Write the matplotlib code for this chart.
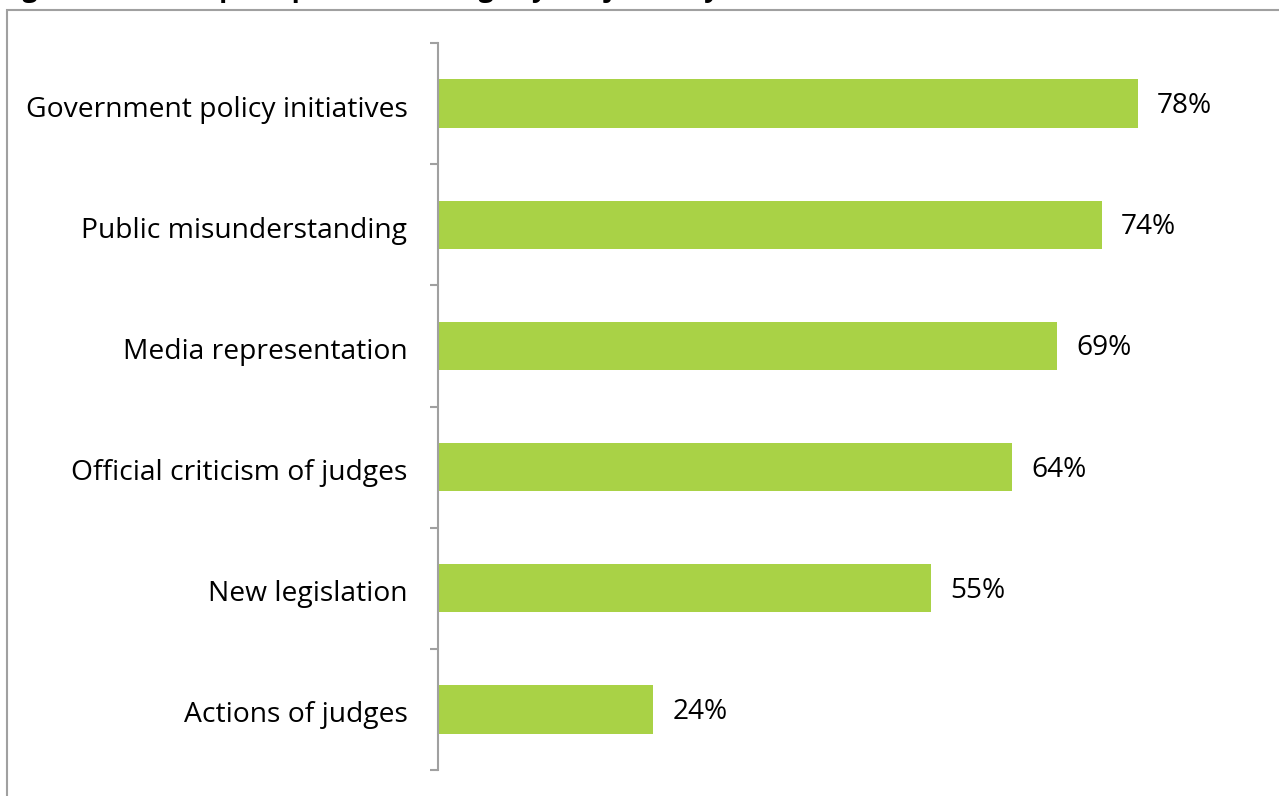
import numpy as np
import matplotlib
matplotlib.use("Agg")
import matplotlib.pyplot as plt
from matplotlib.patches import Rectangle

# survey results, top to bottom
categories = [
    "Government policy initiatives",
    "Public misunderstanding",
    "Media representation",
    "Official criticism of judges",
    "New legislation",
    "Actions of judges",
]
shares = [78, 74, 69, 64, 55, 24]
value_labels = ["78%", "74%", "69%", "64%", "55%", "24%"]
title = "Figure 3: Overall perceptions of change by the judiciary"

W, H = 1279, 796
plt.rcParams["font.family"] = ["Open Sans", "DejaVu Sans"]

fig = plt.figure(figsize=(W / 100, H / 100), dpi=100)

# axes: spine at x=438px, spans y=43..770px; 1% = 8.97px
left, right = 438, W
top, bottom = 43, 770
ax = fig.add_axes([left / W, 1 - bottom / H, (right - left) / W, (bottom - top) / H])
xmax = (right - left) / 8.97

y = np.arange(len(categories))
ax.barh(y, shares, height=0.4, color="#a9d246", zorder=2)
ax.set_xlim(0, xmax)
ax.set_ylim(len(categories) - 0.5, -0.5)

for yi, v, lab in zip(y, shares, value_labels):
    ax.text(v + 19 / 8.97, yi + 0.02, lab, va="center", ha="left", fontsize=20.2, color="black")

ax.set_yticks(y + 0.02)
ax.set_yticklabels(categories, fontsize=20.3)
ax.tick_params(axis="y", which="major", length=0, pad=22)
ax.set_yticks(np.arange(-0.5, len(categories)), minor=True)
ax.tick_params(axis="y", which="minor", length=6, width=1.5, color="#a0a0a0", direction="out")
ax.set_xticks([])

for s in ["top", "right", "bottom"]:
    ax.spines[s].set_visible(False)
ax.spines["left"].set_color("#a0a0a0")
ax.spines["left"].set_linewidth(1.5)

# chart area border, runs off the right and bottom edges
fig.patches.append(Rectangle((7 / W, -0.05), 1.05, 1 - 10 / H + 0.05,
                             transform=fig.transFigure, fill=False,
                             edgecolor="#a0a0a0", linewidth=1.5, clip_on=False))

# heading sits above the page, only its descenders show
fig.text(0.0, 1 + 3 / H, title, fontsize=19, fontweight="bold", ha="left", va="baseline")

fig.savefig("out.png", dpi=100)
